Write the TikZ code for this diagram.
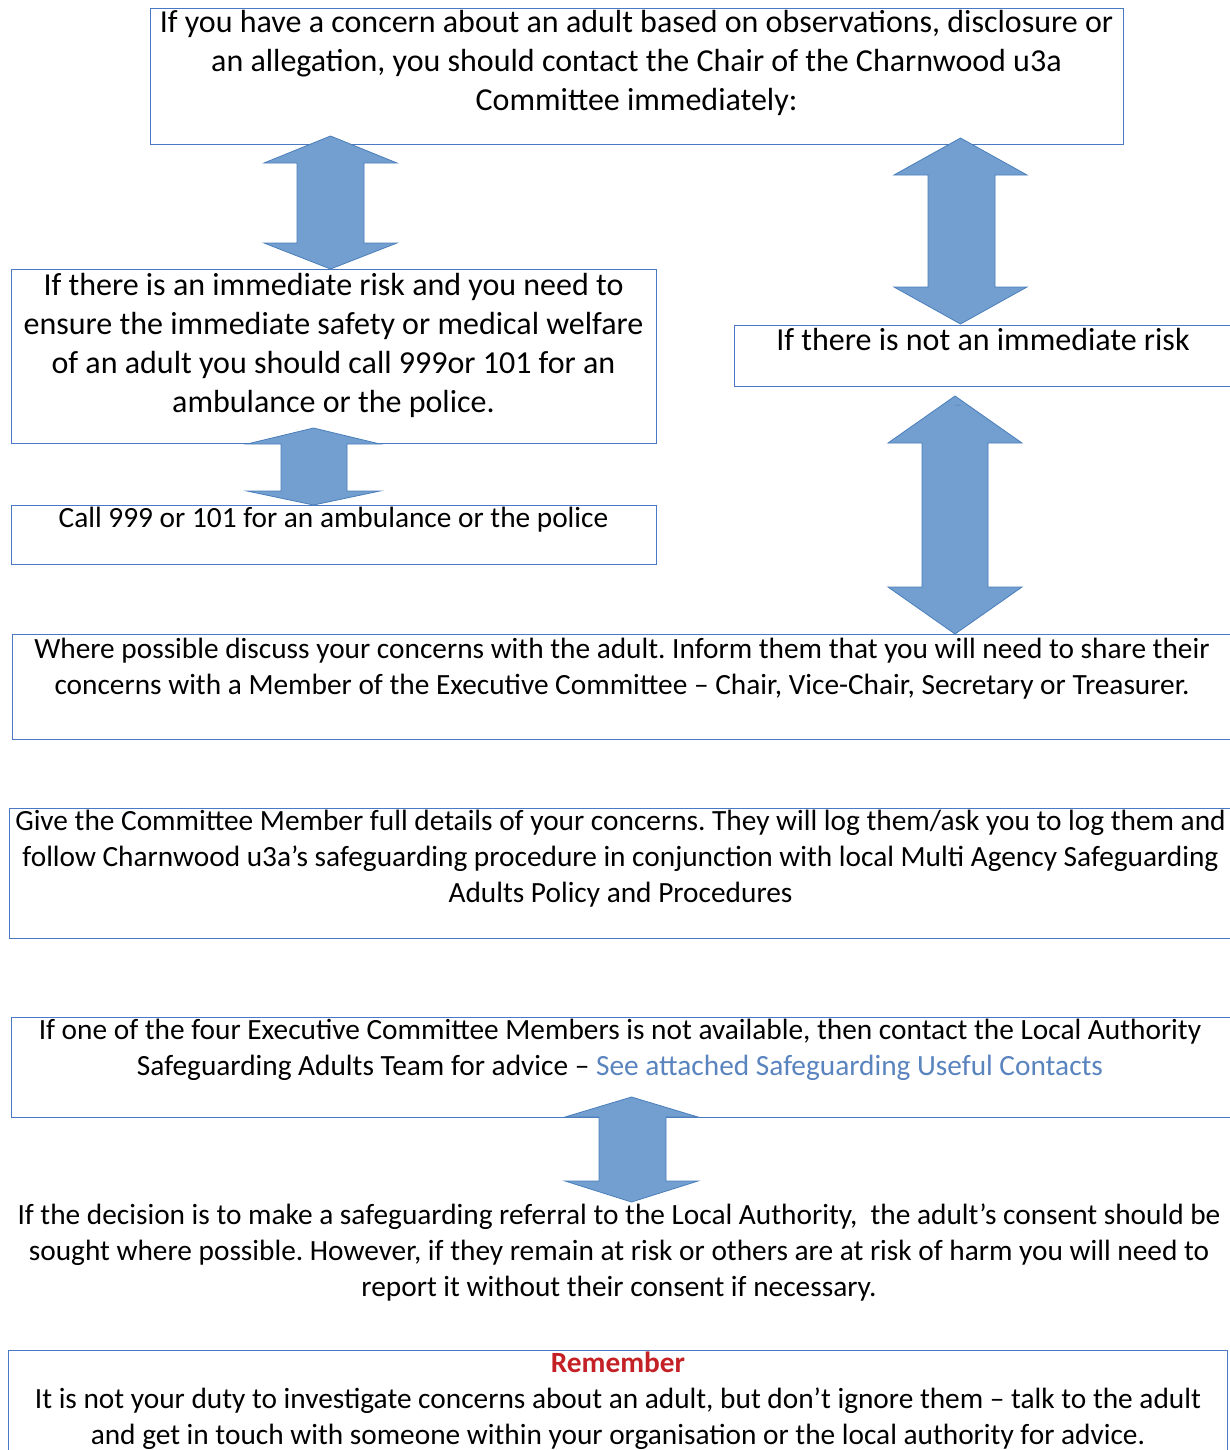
\documentclass[tikz,border=0pt]{standalone}
\usepackage{fontspec}
\setmainfont{Carlito}
\usepackage{xcolor}
\definecolor{boxblue}{HTML}{4A78C2}
\definecolor{arrfill}{HTML}{729FCF}
\definecolor{arrline}{HTML}{4A7EBB}
\definecolor{linkblue}{HTML}{5A84BE}
\definecolor{remred}{HTML}{C42126}
\frenchspacing
\tikzset{
  boxline/.style={draw=boxblue, line width=0.75pt},
  bigtxt/.style={inner sep=0pt, align=center, anchor=north, font=\fontsize{24}{29.25}\selectfont},
  smalltxt/.style={inner sep=0pt, align=center, anchor=north, font=\fontsize{22}{27}\selectfont},
  blockarrow/.style={fill=arrfill, draw=arrline, line width=0.6pt, line join=miter}
}
% double block arrow: xl xr (head), sl sr (shaft), top, headbase-top, headbase-bottom, bottom
\newcommand\dblblock[8]{%
  \path[blockarrow] ({(#1+#2)/2},#5) -- (#2,#6) -- (#4,#6) -- (#4,#7) -- (#2,#7)
    -- ({(#1+#2)/2},#8) -- (#1,#7) -- (#3,#7) -- (#3,#6) -- (#1,#6) -- cycle;}
\begin{document}
\begin{tikzpicture}[x=0.75pt,y=-0.75pt]
\useasboundingbox (0,0) rectangle (1229,1450);
% boxes
\draw[boxline] (150,8) rectangle (1123,144);
\draw[boxline] (11,269) rectangle (656,443);
\draw[boxline] (11,505) rectangle (656,564);
\draw[boxline] (734,325) rectangle (1234,386);
\draw[boxline] (12,634) rectangle (1234,739);
\draw[boxline] (9,808) rectangle (1234,938);
\draw[boxline] (11,1017) rectangle (1234,1117);
\draw[boxline] (8,1350) rectangle (1227,1460);
% texts
\node[bigtxt] (t1) at (636.5,10) {If you have a concern about an adult based on observations, disclosure or\\an allegation, you should contact the Chair of the Charnwood u3a\\Committee immediately:};
\node[bigtxt] (t2) at (333.5,273) {If there is an immediate risk and you need to\\ensure the immediate safety or medical welfare\\of an adult you should call 999or 101 for an\\ambulance or the police.};
\node[smalltxt] (t3) at (333.5,507) {Call 999 or 101 for an ambulance or the police};
\node[bigtxt] (t4) at (983,328) {If there is not an immediate risk};
\node[smalltxt] (t5) at (622,638) {Where possible discuss your concerns with the adult. Inform them that you will need to share their\\concerns with a Member of the Executive Committee – Chair, Vice-Chair, Secretary or Treasurer.};
\node[smalltxt] (t6) at (620.5,810) {Give the Committee Member full details of your concerns. They will log them/ask you to log them and\\follow Charnwood u3a’s safeguarding procedure in conjunction with local Multi Agency Safeguarding\\Adults Policy and Procedures};
\node[smalltxt] (t7) at (620,1019) {If one of the four Executive Committee Members is not available, then contact the Local Authority\\Safeguarding Adults Team for advice – {\color{linkblue}See attached Safeguarding Useful Contacts}};
\node[smalltxt] (t8) at (619,1204) {If the decision is to make a safeguarding referral to the Local Authority,\ \ the adult’s consent should be\\sought where possible. However, if they remain at risk or others are at risk of harm you will need to\\report it without their consent if necessary.};
\node[smalltxt] (t9) at (618,1352) {{\color{remred}\bfseries Remember}\\It is not your duty to investigate concerns about an adult, but don’t ignore them – talk to the adult\\and get in touch with someone within your organisation or the local authority for advice.};
% block arrows
\dblblock{264}{397}{297}{364}{136}{163}{243}{269}
\dblblock{894}{1027}{928}{995}{138}{175}{287}{324}
\dblblock{247}{380}{281}{347}{428}{444}{491}{505}
\dblblock{888}{1022}{922}{988}{396}{443}{587}{634}
\dblblock{565}{698}{599}{666}{1097}{1117}{1181}{1202}
\node[inner sep=0pt, font=\fontsize{8}{8}\selectfont, text=arrline] (mark) at (958,405) {\_};
\end{tikzpicture}
\end{document}
